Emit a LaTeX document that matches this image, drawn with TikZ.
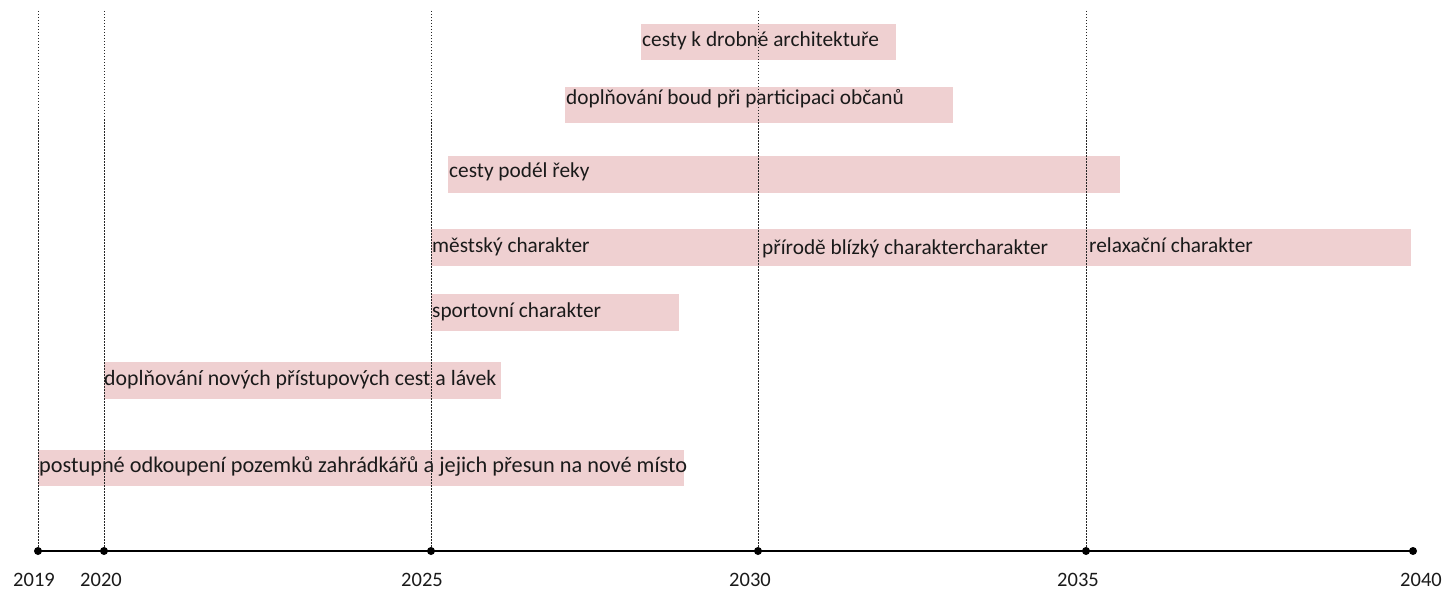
\documentclass[tikz,border=0pt]{standalone}
\usepackage{fontspec}
\setmainfont{Carlito}
\definecolor{barpink}{RGB}{239,208,209}
\definecolor{txt}{RGB}{26,26,26}
\tikzset{
  bar/.style={fill=barpink, draw=none, inner sep=0pt, outer sep=0pt},
  lbl/.style={anchor=base west, inner sep=0pt, text=txt, font=\fontsize{21.3}{25}\selectfont},
  lblL/.style={lbl, font=\fontsize{21.8}{25}\selectfont},
  lblXL/.style={lbl, font=\fontsize{22.3}{26}\selectfont},
  yr/.style={anchor=base, inner sep=0pt, text=txt, font=\fontsize{20.5}{24}\selectfont},
  grid/.style={line width=1pt, dash pattern=on 1.5pt off 1.5pt, black!85},
  axis/.style={line width=2.8pt, black},
  dot/.style={circle, fill=black, inner sep=0pt, minimum size=8pt}
}
\begin{document}
\begin{tikzpicture}[x=1pt,y=-1pt]
\useasboundingbox (0,0) rectangle (1445,591);
% bars
\fill[bar] (641,24) rectangle (896,60);
\fill[bar] (565,87) rectangle (953,123);
\fill[bar] (448,156) rectangle (1120,193);
\fill[bar] (431,229) rectangle (1411,266);
\fill[bar] (431,294) rectangle (679,331);
\fill[bar] (104,362) rectangle (501,399);
\fill[bar] (38,450) rectangle (684,486);
% labels
\node[lbl] (t1) at (642,47) {cesty k drobné architektuře};
\node[lbl] (t2) at (566,105) {doplňování boud při participaci občanů};
\node[lbl] (t3) at (449,177) {cesty podél řeky};
\node[lbl] (t4a) at (432,252) {městský charakter};
\node[lbl] (t4b) at (762,254) {přírodě blízký charaktercharakter};
\node[lbl] (t4c) at (1089,252) {relaxační charakter};
\node[lbl] (t5) at (432,317) {sportovní charakter};
\node[lblL] (t6) at (104,385) {doplňování nových přístupových cest a lávek};
\node[lblXL] (t7) at (39,472) {postupné odkoupení pozemků zahrádkářů a jejich přesun na nové místo};
% axis
\coordinate (a19) at (38,551);
\coordinate (a20) at (104,551);
\coordinate (a25) at (431,551);
\coordinate (a30) at (758,551);
\coordinate (a35) at (1086,551);
\coordinate (a40) at (1413,551);
\coordinate (g19) at (38,11);
\coordinate (g20) at (104,11);
\coordinate (g25) at (431,11);
\coordinate (g30) at (758,11);
\coordinate (g35) at (1086,11);
\foreach \n in {19,20,25,30,35} \draw[grid] (g\n) -- (a\n);
\draw[axis] (a19) -- (a40);
\foreach \n in {19,20,25,30,35,40} \node[dot] (d\n) at (a\n) {};
\node[yr] (y19) at (34,586) {2019};
\node[yr] (y20) at (101,586) {2020};
\node[yr] (y25) at (422,586) {2025};
\node[yr] (y30) at (750,586) {2030};
\node[yr] (y35) at (1078,586) {2035};
\node[yr] (y40) at (1421,586) {2040};
\end{tikzpicture}
\end{document}
